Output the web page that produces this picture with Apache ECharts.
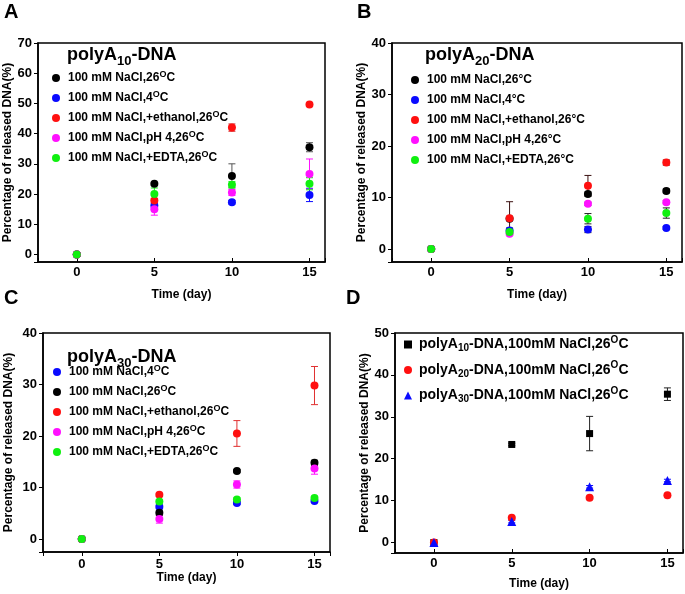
<!DOCTYPE html>
<html><head><meta charset="utf-8">
<script src="https://cdn.jsdelivr.net/npm/echarts@6/dist/echarts.min.js"></script>
<style>html,body{margin:0;padding:0;background:#fff}#c{width:685px;height:594px}</style>
</head><body><div id="c"></div>
<script>
// ---------- data ----------
const days = [0, 5, 10, 15];
const xTickValues = [0, 5, 10, 15];
const yTicksA = [0, 10, 20, 30, 40, 50, 60, 70];
const yTicksB = [0, 10, 20, 30, 40];
const yTicksC = [0, 10, 20, 30, 40];
const yTicksD = [0, 10, 20, 30, 40, 50];

const namesAB = ['100 mM NaCl,26°C', '100 mM NaCl,4°C', '100 mM NaCl,+ethanol,26°C', '100 mM NaCl,pH 4,26°C', '100 mM NaCl,+EDTA,26°C'];
const namesC = ['100 mM NaCl,4°C', '100 mM NaCl,26°C', '100 mM NaCl,+ethanol,26°C', '100 mM NaCl,pH 4,26°C', '100 mM NaCl,+EDTA,26°C'];
const namesD = ['polyA10-DNA,100mM NaCl,26°C', 'polyA20-DNA,100mM NaCl,26°C', 'polyA30-DNA,100mM NaCl,26°C'];
const panelTitles = ['polyA10-DNA', 'polyA20-DNA', 'polyA30-DNA'];
const panelLetters = ['A', 'B', 'C', 'D'];

// Panel A (polyA10)
const a26 = [0, 23.4, 26.0, 35.5];
const a26Err = [0, 0.5, 4.0, 1.5];
const a4 = [0, 16.2, 17.3, 19.7];
const a4Err = [0, 0.8, 0.6, 2.2];
const aEth = [0, 17.9, 42.0, 49.6];
const aEthErr = [0, 0.6, 1.2, 0.4];
const aPH = [0, 15.0, 20.5, 26.6];
const aPHErr = [0, 2.0, 1.0, 5.0];
const aEDTA = [0, 20.0, 23.1, 23.4];
const aEDTAErr = [0, 2.0, 1.0, 2.0];
// Panel B (polyA20)
const b26 = [0, 5.9, 10.7, 11.3];
const b26Err = [0, 0.3, 0.4, 0.4];
const b4 = [0, 3.6, 3.8, 4.1];
const b4Err = [0, 0.5, 0.6, 0.3];
const bEth = [0, 6.0, 12.3, 16.8];
const bEthErr = [0, 3.2, 2.0, 0.5];
const bPH = [0, 3.0, 8.8, 9.1];
const bPHErr = [0, 0.3, 0.3, 0.3];
const bEDTA = [0, 3.3, 5.9, 7.0];
const bEDTAErr = [0, 0.4, 1.0, 1.0];
// Panel C (polyA30)
const c4 = [0, 6.3, 7.0, 7.4];
const c4Err = [0, 0.3, 0.3, 0.3];
const c26 = [0, 5.1, 13.2, 14.8];
const c26Err = [0, 0.5, 0.3, 0.5];
const cEth = [0, 8.6, 20.5, 29.8];
const cEthErr = [0, 0.3, 2.5, 3.7];
const cPH = [0, 3.9, 10.6, 13.7];
const cPHErr = [0, 0.8, 0.7, 1.1];
const cEDTA = [0, 7.3, 7.7, 8.0];
const cEDTAErr = [0, 0.3, 0.3, 0.3];
// Panel D (comparison at 26 °C)
const dA10 = [0, 23.4, 26.0, 35.4];
const dA10Err = [0, 0.3, 4.1, 1.5];
const dA20 = [0, 5.9, 10.7, 11.3];
const dA20Err = [0, 0.2, 0.2, 0.2];
const dA30 = [0, 5.0, 13.3, 14.8];
const dA30Err = [0, 0.3, 0.3, 0.3];

// ---------- styles ----------
const FONT = '"Liberation Sans", Arial, sans-serif';
const BLACK = '#000000', BLUE = '#0a0aff', RED = '#ff1010', MAGENTA = '#ff10ff', GREEN = '#10f010';

const grids = [
  {left: 38, top: 43, width: 287, height: 219},
  {left: 392, top: 43, width: 290, height: 219},
  {left: 43, top: 333, width: 287, height: 219},
  {left: 395, top: 333, width: 288, height: 220}
];

function errorBarRenderer(color) {
  return function (params, api) {
    const x = api.value(0), lo = api.value(1), hi = api.value(2);
    const top = api.coord([x, hi]), bot = api.coord([x, lo]);
    const cap = 3.5;
    const st = {stroke: color, lineWidth: 1};
    return {type: 'group', children: [
      {type: 'line', shape: {x1: top[0], y1: top[1], x2: bot[0], y2: bot[1]}, style: st},
      {type: 'line', shape: {x1: top[0] - cap, y1: top[1], x2: top[0] + cap, y2: top[1]}, style: st},
      {type: 'line', shape: {x1: bot[0] - cap, y1: bot[1], x2: bot[0] + cap, y2: bot[1]}, style: st}
    ]};
  };
}

const series = [];
function addPanel(key, gi, names, vals, errs, colors, errColors, symbols, sizes) {
  names.forEach((nm, k) => {
    const ed = [];
    days.forEach((d, i) => { if (errs[k][i] > 0) ed.push([d, vals[k][i] - errs[k][i], vals[k][i] + errs[k][i]]); });
    series.push({
      type: 'custom', xAxisIndex: gi, yAxisIndex: gi, z: 1, silent: true,
      renderItem: errorBarRenderer(errColors[k]), encode: {x: 0, y: [1, 2]}, data: ed
    });
  });
  names.forEach((nm, k) => {
    series.push({
      name: key + '|' + nm, type: 'scatter', xAxisIndex: gi, yAxisIndex: gi, z: 2 + k,
      symbol: symbols[k], symbolSize: sizes[k], itemStyle: {color: colors[k], opacity: 1},
      data: days.map((d, i) => [d, vals[k][i]])
    });
  });
}

addPanel('A', 0, namesAB, [a26, a4, aEth, aPH, aEDTA], [a26Err, a4Err, aEthErr, aPHErr, aEDTAErr],
  [BLACK, BLUE, RED, MAGENTA, GREEN], ['#555', BLUE, '#d02020', MAGENTA, GREEN],
  ['circle', 'circle', 'circle', 'circle', 'circle'], [8, 8, 8, 8, 8]);
addPanel('B', 1, namesAB, [b26, b4, bEth, bPH, bEDTA], [b26Err, b4Err, bEthErr, bPHErr, bEDTAErr],
  [BLACK, BLUE, RED, MAGENTA, GREEN], ['#333', '#222', '#3a1010', '#333', '#222'],
  ['circle', 'circle', 'circle', 'circle', 'circle'], [8, 8, 8, 8, 8]);
addPanel('C', 2, namesC, [c4, c26, cEth, cPH, cEDTA], [c4Err, c26Err, cEthErr, cPHErr, cEDTAErr],
  [BLUE, BLACK, RED, MAGENTA, GREEN], [BLUE, '#333', '#e03030', MAGENTA, GREEN],
  ['circle', 'circle', 'circle', 'circle', 'circle'], [8, 8, 8, 8, 8]);
addPanel('D', 3, namesD, [dA10, dA20, dA30], [dA10Err, dA20Err, dA30Err],
  [BLACK, RED, BLUE], ['#222', RED, BLUE],
  ['rect', 'circle', 'triangle'], [7, 8, 9]);

// ---------- axes ----------
const yMax = [70, 40, 40, 50];
const yTicks = [yTicksA, yTicksB, yTicksC, yTicksD];
const yNameGap = [24, 21, 28, 21];
const xNameGap = [27, 27, 19, 25];
const xLabelMargin = [4, 4, 6, 4];
const labelStyle = {color: '#000', fontFamily: FONT, fontWeight: 'bold', fontSize: 13};
const nameStyle = {color: '#000', fontFamily: FONT, fontWeight: 'bold', fontSize: 12};

const xAxes = grids.map((g, i) => ({
  type: 'value', gridIndex: i, min: -2.5, max: 16, position: 'bottom', splitNumber: 4,
  name: 'Time (day)', nameLocation: 'middle', nameGap: xNameGap[i], nameTextStyle: nameStyle,
  axisLine: {show: true, onZero: false, lineStyle: {color: '#000', width: 1.5}},
  axisTick: {show: true, inside: i !== 2, length: 4, lineStyle: {color: '#000', width: 1}},
  axisLabel: {customValues: xTickValues, margin: xLabelMargin[i], ...labelStyle},
  splitLine: {show: false}
}));
const yAxes = grids.map((g, i) => ({
  type: 'value', gridIndex: i, min: -2.5, max: yMax[i], position: 'left', splitNumber: yTicks[i].length - 1,
  name: 'Percentage of released DNA(%)', nameLocation: 'middle', nameRotate: 90, nameGap: yNameGap[i], nameTextStyle: nameStyle,
  axisLine: {show: true, onZero: false, lineStyle: {color: '#000', width: 1.5}},
  axisTick: {show: true, inside: false, length: 4, lineStyle: {color: '#000', width: 1}},
  axisLabel: {customValues: yTicks[i], margin: 6, ...labelStyle},
  splitLine: {show: false}
}));

// ---------- titles ----------
const titles = [];
const letterPos = [[4, 2], [357, 2], [4, 288], [346, 288]];
panelLetters.forEach((L, i) => titles.push({
  text: L, left: letterPos[i][0], top: letterPos[i][1], padding: 0,
  textStyle: {fontFamily: FONT, fontWeight: 'bold', fontSize: 20, color: '#000'}
}));
const titlePos = [[67, 44], [425, 44], [67, 346]];
panelTitles.forEach((t, i) => {
  const m = t.match(/^polyA(\d+)(-DNA)$/);
  titles.push({
    text: '{t|polyA}{sub|' + m[1] + '}{t|' + m[2] + '}', left: titlePos[i][0], top: titlePos[i][1], padding: 0,
    textStyle: {
      rich: {
        t: {fontFamily: FONT, fontWeight: 'bold', fontSize: 18, color: '#000', lineHeight: 22},
        sub: {fontFamily: FONT, fontWeight: 'bold', fontSize: 13, color: '#000', lineHeight: 22, padding: [12, 0, 0, 0]}
      }
    }
  });
});

// ---------- legends ----------
function legendFormatter(name) {
  const key = name.split('|')[0];
  let text = name.slice(key.length + 1);
  if (key === 'D') {
    const m = text.match(/^polyA(\d+)(.*)°C$/);
    return '{f|polyA}{sub|' + m[1] + '}{t|' + m[2] + '}{sup|O}{t|C}';
  }
  if (key === 'B') {
    return '{f|' + text + '}';
  }
  const base = text.replace(/°C$/, '');
  return '{f|' + base + '}{sup|O}{t|C}';
}
const smallRich = {
  f: {fontFamily: FONT, fontWeight: 'bold', fontSize: 12, color: '#000', lineHeight: 14, padding: [0, 0, 0, 3]},
  t: {fontFamily: FONT, fontWeight: 'bold', fontSize: 12, color: '#000', lineHeight: 14},
  sup: {fontFamily: FONT, fontWeight: 'bold', fontSize: 9, color: '#000', lineHeight: 14, padding: [0, 0, 7, 0]}
};
const bigRich = {
  f: {fontFamily: FONT, fontWeight: 'bold', fontSize: 14, color: '#000', lineHeight: 19, padding: [0, 0, 0, 2]},
  t: {fontFamily: FONT, fontWeight: 'bold', fontSize: 14, color: '#000', lineHeight: 19},
  sub: {fontFamily: FONT, fontWeight: 'bold', fontSize: 10, color: '#000', lineHeight: 19, padding: [8, 0, 0, 0]},
  sup: {fontFamily: FONT, fontWeight: 'bold', fontSize: 10, color: '#000', lineHeight: 19, padding: [0, 0, 9, 0]}
};
function legendFor(key, names, left, top, gap, rich) {
  return {
    orient: 'vertical', left, top, padding: 0, itemGap: gap, itemWidth: 8, itemHeight: 8,
    selectedMode: false, data: names.map(n => key + '|' + n), formatter: legendFormatter,
    textStyle: {rich}
  };
}
const legends = [
  legendFor('A', namesAB, 52, 70, 4, smallRich),
  legendFor('B', namesAB, 411, 74, 8, smallRich),
  legendFor('C', namesC, 53, 364, 4, smallRich),
  legendFor('D', namesD, 404, 335, 6.5, bigRich)
];

const chart = echarts.init(document.getElementById('c'), null, {renderer: 'canvas'});
chart.setOption({
  backgroundColor: '#fff',
  animation: false,
  title: titles,
  legend: legends,
  grid: grids.map(g => ({...g, show: true, borderColor: '#000', borderWidth: 1.5, backgroundColor: 'transparent'})),
  xAxis: xAxes,
  yAxis: yAxes,
  series
});
</script></body></html>
